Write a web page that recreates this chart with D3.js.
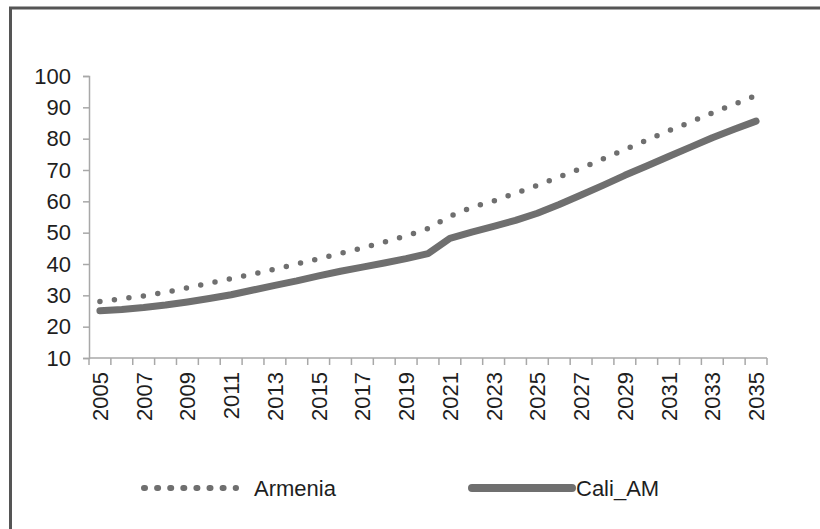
<!DOCTYPE html>
<html>
<head>
<meta charset="utf-8">
<script src="https://cdnjs.cloudflare.com/ajax/libs/d3/7.8.5/d3.min.js"></script>
<style>
    body { margin: 0; background: #fff; }
    svg { display: block; }
    text { font-family: "Liberation Sans", Arial, sans-serif; fill: #1e1e1e; }
</style>
</head>
<body>
<div id="chart"></div>
<script>
var years = d3.range(2005, 2036);

var armenia = [28.0, 28.9, 29.8, 31.0, 32.4, 33.9, 35.3, 36.8, 38.4, 40.0,
    41.7, 43.4, 45.1, 47.0, 49.0, 51.3, 55.2, 58.1, 60.1, 62.6,
    65.1, 67.8, 70.5, 73.5, 76.5, 79.5, 82.5, 85.3, 88.2, 91.0, 93.8];

var caliAM = [25.1, 25.5, 26.1, 26.9, 27.9, 29.0, 30.2, 31.7, 33.2, 34.6,
    36.2, 37.7, 39.0, 40.3, 41.7, 43.3, 48.2, 50.2, 52.0, 53.9,
    56.2, 59.0, 62.0, 65.1, 68.3, 71.3, 74.3, 77.3, 80.3, 83.0, 85.6];

var yTicks = [10, 20, 30, 40, 50, 60, 70, 80, 90, 100];
var seriesNames = ["Armenia", "Cali_AM"];

var width = 820,
    height = 529,
    lineColor = "#6f6f6f",
    axisColor = "#a8a8a8";

var svg = d3.select("#chart")
    .append("svg")
    .attr("width", width)
    .attr("height", height);

svg.append("rect")
    .attr("width", width)
    .attr("height", height)
    .attr("fill", "#fff");

// frame: only left and top edges are visible
svg.append("path")
    .attr("d", "M10.5," + height + "V8H" + width)
    .attr("fill", "none")
    .attr("stroke", "#555")
    .attr("stroke-width", 3);

var xScale = d3.scaleBand()
    .domain(years)
    .range([89, 767]);

var yScale = d3.scaleLinear()
    .domain([10, 100])
    .range([358, 76]);

// y axis
var yAxis = svg.append("g")
    .attr("transform", "translate(89,0)")
    .call(d3.axisLeft(yScale).tickValues(yTicks).tickSize(6).tickPadding(12));

yAxis.select(".domain").attr("stroke", axisColor).attr("stroke-width", 1.5);
yAxis.selectAll(".tick line").attr("stroke", axisColor).attr("stroke-width", 1.5);
yAxis.selectAll(".tick text")
    .attr("font-size", 22)
    .attr("fill", "#1e1e1e")
    .style("font-family", "Liberation Sans, Arial, sans-serif");

// x axis with ticks between categories
var xAxis = svg.append("g");

xAxis.append("line")
    .attr("x1", xScale.range()[0])
    .attr("x2", xScale.range()[1])
    .attr("y1", yScale(10))
    .attr("y2", yScale(10))
    .attr("stroke", axisColor)
    .attr("stroke-width", 1.5);

var bounds = years.map(function(d) { return xScale(d); }).concat([xScale.range()[1]]);

xAxis.selectAll(".xtick")
    .data(bounds)
    .enter().append("line")
    .attr("class", "xtick")
    .attr("x1", function(d) { return d; })
    .attr("x2", function(d) { return d; })
    .attr("y1", yScale(10))
    .attr("y2", yScale(10) + 7)
    .attr("stroke", axisColor)
    .attr("stroke-width", 1.5);

xAxis.selectAll(".xlabel")
    .data(years.filter(function(d, i) { return i % 2 == 0; }))
    .enter().append("text")
    .attr("class", "xlabel")
    .attr("transform", function(d) {
        return "translate(" + (xScale(d) + xScale.bandwidth() / 2) + "," + (yScale(10) + 14) + ") rotate(-90)";
    })
    .attr("text-anchor", "end")
    .attr("dy", "0.36em")
    .attr("font-size", 22)
    .text(function(d) { return d; });

var line = d3.line()
    .x(function(d, i) { return xScale(years[i]) + xScale.bandwidth() / 2; })
    .y(function(d) { return yScale(d); });

svg.append("path")
    .datum(caliAM)
    .attr("d", line)
    .attr("fill", "none")
    .attr("stroke", lineColor)
    .attr("stroke-width", 7)
    .attr("stroke-linejoin", "round")
    .attr("stroke-linecap", "round");

svg.append("path")
    .datum(armenia)
    .attr("d", line)
    .attr("fill", "none")
    .attr("stroke", lineColor)
    .attr("stroke-width", 5.5)
    .attr("stroke-linecap", "round")
    .attr("stroke-dasharray", "0 14.6");

// legend
var legend = svg.append("g").attr("transform", "translate(0,488)");

legend.append("line")
    .attr("x1", 144).attr("x2", 236)
    .attr("y1", 0).attr("y2", 0)
    .attr("stroke", lineColor)
    .attr("stroke-width", 6)
    .attr("stroke-linecap", "round")
    .attr("stroke-dasharray", "1 12.1");

legend.append("text")
    .attr("x", 254)
    .attr("dy", "0.36em")
    .attr("font-size", 22)
    .text(seriesNames[0]);

legend.append("line")
    .attr("x1", 472).attr("x2", 572)
    .attr("y1", 0).attr("y2", 0)
    .attr("stroke", lineColor)
    .attr("stroke-width", 8)
    .attr("stroke-linecap", "round");

legend.append("text")
    .attr("x", 576)
    .attr("dy", "0.36em")
    .attr("font-size", 22)
    .text(seriesNames[1]);
</script>
</body>
</html>
